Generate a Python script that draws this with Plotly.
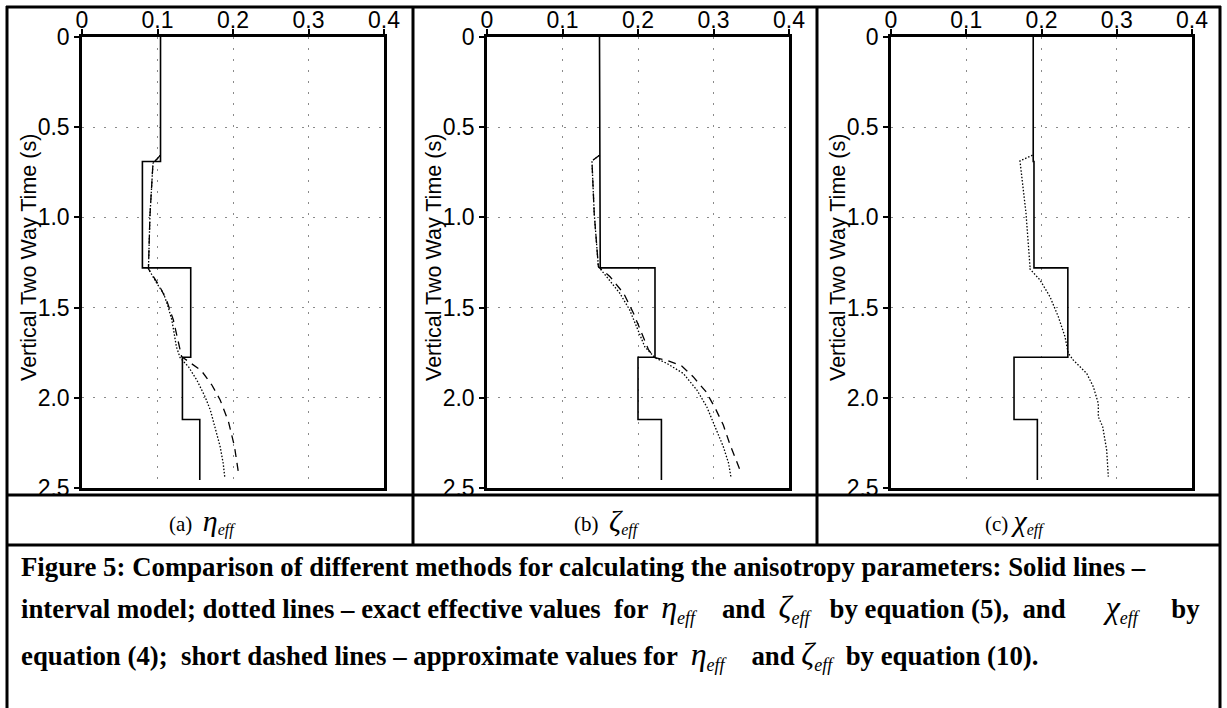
import plotly.graph_objects as go

# ---------------- data ----------------
bounds = [0.0, 0.69, 1.28, 1.775, 2.12, 2.455]          # interval boundaries (s)
eta_interval = [0.104, 0.080, 0.144, 0.133, 0.156]
zeta_interval = [0.149, 0.150, 0.2225, 0.200, 0.231]
chi_interval = [0.189, 0.190, 0.235, 0.1635, 0.1945]

eta_exact_t = [0.655, 0.70, 0.99, 1.285, 1.365, 1.421, 1.495, 1.569, 1.642, 1.717, 1.778,
               1.828, 1.901, 1.994, 2.068, 2.160, 2.271, 2.363, 2.437]
eta_exact_v = [0.104, 0.094, 0.090, 0.088, 0.099, 0.108, 0.114, 0.119, 0.122, 0.125, 0.130,
               0.141, 0.152, 0.163, 0.170, 0.176, 0.183, 0.187, 0.189]
eta_approx_t = [0.655, 0.70, 0.99, 1.285, 1.384, 1.458, 1.569, 1.698, 1.772, 1.849, 1.929,
                2.012, 2.132, 2.271, 2.437]
eta_approx_v = [0.104, 0.094, 0.090, 0.088, 0.103, 0.112, 0.121, 0.128, 0.132, 0.158, 0.172,
                0.183, 0.194, 0.202, 0.208]

zeta_exact_t = [0.655, 0.687, 0.977, 1.273, 1.329, 1.421, 1.513, 1.624, 1.717, 1.778, 1.809,
                1.865, 1.957, 2.049, 2.160, 2.271, 2.363, 2.437]
zeta_exact_v = [0.149, 0.139, 0.142, 0.1475, 0.1585, 0.176, 0.189, 0.200, 0.209, 0.2225, 0.238,
                0.260, 0.278, 0.291, 0.302, 0.313, 0.320, 0.323]
zeta_approx_t = [0.655, 0.687, 0.977, 1.273, 1.329, 1.421, 1.531, 1.642, 1.735, 1.778, 1.795,
                 1.824, 1.883, 1.966, 2.055, 2.151, 2.261, 2.363, 2.400]
zeta_approx_v = [0.149, 0.139, 0.142, 0.1475, 0.163, 0.181, 0.194, 0.205, 0.214, 0.2225, 0.240,
                 0.258, 0.273, 0.290, 0.302, 0.313, 0.322, 0.3316, 0.335]

chi_exact_t = [0.655, 0.687, 0.977, 1.273, 1.282, 1.347, 1.440, 1.550, 1.661, 1.753, 1.791,
               1.865, 1.939, 2.031, 2.105, 2.160, 2.290, 2.437]
chi_exact_v = [0.188, 0.1714, 0.1794, 0.1847, 0.1838, 0.198, 0.2113, 0.2223, 0.2312, 0.2356,
               0.2423, 0.2601, 0.2689, 0.2755, 0.2755, 0.2813, 0.2866, 0.2888]

x_ticks = [0, 0.1, 0.2, 0.3, 0.4]
x_ticklabels = ["0", "0.1", "0.2", "0.3", "0.4"]
y_ticks = [0, 0.5, 1.0, 1.5, 2.0, 2.5]
y_ticklabels = ["0", "0.5", "1.0", "1.5", "2.0", "2.5"]
y_title = "Vertical Two Way Time (s)"

# ---------------- layout geometry (pixels) ----------------
W, H = 1227, 708
def fx(px):
    return px / W
def fy(py):
    return 1 - py / H

panels = [(82, 384), (487, 789), (891, 1192)]
top_px, bot_px = 37, 488

def staircase(b, vals):
    xs, ys = [], []
    for i, v in enumerate(vals):
        xs += [v, v]
        ys += [b[i], b[i + 1]]
    return xs, ys

fig = go.Figure()
SANS = "Liberation Sans, Arial, Helvetica, sans-serif"
SERIF = "Liberation Serif, Times New Roman, serif"

DOT = "1.5px,1.8px"
DASH = "8px,6px"
series = [
    (eta_interval, [(eta_exact_v, eta_exact_t, DOT), (eta_approx_v, eta_approx_t, DASH)]),
    (zeta_interval, [(zeta_exact_v, zeta_exact_t, DOT), (zeta_approx_v, zeta_approx_t, DASH)]),
    (chi_interval, [(chi_exact_v, chi_exact_t, DOT)]),
]

for i, (interval, curves) in enumerate(series):
    xa = "x" if i == 0 else f"x{i+1}"
    ya = "y" if i == 0 else f"y{i+1}"
    sx, sy = staircase(bounds, interval)
    fig.add_trace(go.Scatter(x=sx, y=sy, mode="lines", xaxis=xa, yaxis=ya,
                             line=dict(color="black", width=1.6), showlegend=False,
                             hoverinfo="skip"))
    for cv, ct, dash in curves:
        fig.add_trace(go.Scatter(x=cv, y=ct, mode="lines", xaxis=xa, yaxis=ya,
                                 line=dict(color="black", width=1.3, dash=dash),
                                 showlegend=False, hoverinfo="skip"))

layout = dict(template="none", width=W, height=H, margin=dict(l=0, r=0, t=0, b=0, pad=0),
              paper_bgcolor="white", plot_bgcolor="white", showlegend=False)

for i, (x0, x1) in enumerate(panels):
    sfx = "" if i == 0 else str(i + 1)
    layout["xaxis" + sfx] = dict(
        domain=[fx(x0), fx(x1)], range=[0, 0.4], side="top", automargin=False,
        anchor="y" + sfx, tickvals=x_ticks, ticktext=x_ticklabels,
        ticks="outside", ticklen=5, tickwidth=2, tickcolor="black",
        ticklabelstandoff=-8,
        showline=True, linewidth=2.5, linecolor="black", mirror=True,
        showgrid=True, gridcolor="#8a8a8a", gridwidth=1, griddash="2px,9px",
        zeroline=False, tickfont=dict(family=SANS, size=23, color="black"),
        fixedrange=True)
    layout["yaxis" + sfx] = dict(
        domain=[fy(bot_px), fy(top_px)], range=[2.5, 0], automargin=False,
        anchor="x" + sfx, tickvals=y_ticks, ticktext=y_ticklabels,
        ticks="outside", ticklen=5, tickwidth=2, tickcolor="black",
        showline=True, linewidth=2.5, linecolor="black", mirror=True,
        showgrid=True, gridcolor="#8a8a8a", gridwidth=1, griddash="2px,9px",
        zeroline=False, tickfont=dict(family=SANS, size=23, color="black"),
        fixedrange=True)

fig.update_layout(**layout)

# table frame lines
LW = 3
def hline(y, x0, x1):
    fig.add_shape(type="line", xref="paper", yref="paper", x0=fx(x0), x1=fx(x1),
                  y0=fy(y), y1=fy(y), line=dict(color="black", width=LW))
def vline(x, y0, y1):
    fig.add_shape(type="line", xref="paper", yref="paper", x0=fx(x), x1=fx(x),
                  y0=fy(y0), y1=fy(y1), line=dict(color="black", width=LW))

hline(7, 6, 1221)
hline(495, 6, 1221)
hline(545, 6, 1221)
vline(7, 6, 708)
vline(1220, 6, 708)
vline(413, 6, 545)
vline(817, 6, 545)

# y-axis titles
for (x0, x1) in panels:
    fig.add_annotation(x=fx(x0 - 53), y=fy(258), xref="paper", yref="paper",
                       text=y_title, textangle=-90, showarrow=False,
                       xanchor="center", yanchor="middle",
                       font=dict(family=SANS, size=21.5, color="black"))

# sub captions
subcaps = [("(a)", "η", "&nbsp;&nbsp;", -8), ("(b)", "ζ", "&nbsp;&nbsp;", -8),
           ("(c)", "χ", "&nbsp;", -4)]
cols = [(7, 413), (413, 817), (817, 1220)]
for (lab, gk, sp, dx), (c0, c1) in zip(subcaps, cols):
    txt = (f"{lab}{sp}<span style='font-size:30px'><i>{gk}</i></span>"
           f"<sub><span style='font-size:16px'><i>eff</i></span></sub>")
    fig.add_annotation(x=fx((c0 + c1) / 2 + dx), y=fy(521), xref="paper", yref="paper",
                       text=txt, showarrow=False, xanchor="center", yanchor="middle",
                       font=dict(family=SERIF, size=21, color="black"))

def g(sym):
    return (f"</b><span style='font-size:32px'><i>{sym}</i></span>"
            f"<sub><span style='font-size:18px'><i>eff</i></span></sub><b>")

NB = "&nbsp;"
cap1 = "<b>Figure 5: Comparison of different methods for calculating the anisotropy parameters: Solid lines –</b>"
cap2 = ("<b>interval model; dotted lines – exact effective values" + NB + " for " + NB + g("η") +
        NB * 4 + "and " + NB + g("ζ") + NB * 2 + " by equation (5)," + NB + " and" + NB * 6 +
        g("χ") + NB * 5 + "by</b>")
cap3 = ("<b>equation (4);" + NB + " short dashed lines – approximate values for " + NB + g("η") +
        NB * 4 + "and " + g("ζ") + NB * 2 + "by equation (10).</b>")
for txt, yy in [(cap1, 567), (cap2, 608), (cap3, 655)]:
    fig.add_annotation(x=fx(19), y=fy(yy), xref="paper", yref="paper", text=txt,
                       showarrow=False, xanchor="left", yanchor="middle",
                       font=dict(family=SERIF, size=26.8, color="black"))

fig.write_html("out.html",
               post_script="document.body.style.margin='0';document.body.style.overflow='hidden';")
